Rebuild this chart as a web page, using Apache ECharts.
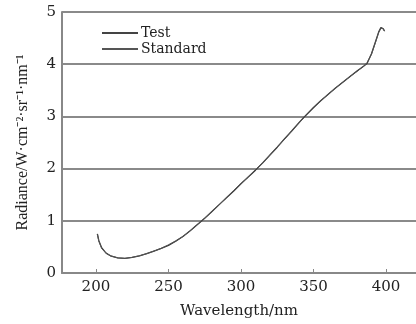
<!DOCTYPE html>
<html><head><meta charset="utf-8">
<script src="https://cdn.jsdelivr.net/npm/echarts@6/dist/echarts.min.js"></script>
<style>html,body{margin:0;padding:0;background:#fff}#c{width:416px;height:324px}</style>
</head><body><div id="c"></div>
<script>
const wavelengths = [201,202,204,207,210,215,220,225,230,235,240,245,250,255,260,265,270,275,280,285,290,295,300,305,310,315,320,325,330,335,340,345,350,355,360,365,370,375,380,385,387,390,393,395,396.5,398,399];
const testValues = [0.75,0.62,0.48,0.38,0.33,0.29,0.28,0.30,0.33,0.37,0.42,0.47,0.53,0.61,0.70,0.81,0.93,1.05,1.18,1.31,1.44,1.57,1.71,1.84,1.97,2.11,2.26,2.41,2.57,2.72,2.88,3.03,3.17,3.30,3.42,3.54,3.65,3.76,3.87,3.97,4.02,4.20,4.45,4.62,4.70,4.68,4.64];
const standardValues = [0.74,0.61,0.47,0.38,0.33,0.29,0.28,0.30,0.33,0.37,0.42,0.47,0.54,0.61,0.70,0.81,0.93,1.05,1.18,1.31,1.44,1.58,1.71,1.84,1.98,2.11,2.26,2.41,2.56,2.72,2.87,3.02,3.16,3.30,3.42,3.54,3.65,3.76,3.86,3.97,4.03,4.19,4.44,4.61,4.69,4.68,4.63];
const xTicks = [200,250,300,350,400];
const seriesNames = ['Test','Standard'];

const font = 'DejaVu Serif';
const chart = echarts.init(document.getElementById('c'));
const mk = (arr) => wavelengths.map((w,i)=>[w,arr[i]]);
chart.setOption({
  animation:false,
  backgroundColor:'#fff',
  grid:{left:62,right:0,top:12,bottom:44},
  legend:{
    orient:'vertical', left:97, top:21, itemGap:2,
    itemWidth:36, itemHeight:2, icon:'rect',
    textStyle:{fontFamily:font,fontSize:14,color:'#222',padding:[0,0,0,-2]},
    data:seriesNames
  },
  xAxis:{
    type:'value', min:176.6, max:420.7,
    name:'Wavelength/nm', nameLocation:'middle', nameGap:31,
    nameTextStyle:{fontFamily:font,fontSize:15,color:'#222'},
    axisLine:{lineStyle:{color:'#888',width:2}},
    axisTick:{inside:true,length:4,customValues:xTicks,lineStyle:{color:'#888',width:1}},
    axisLabel:{customValues:xTicks,fontFamily:font,fontSize:15,color:'#222',margin:7},
    splitLine:{show:false}
  },
  yAxis:{
    type:'value', min:0, max:5, interval:1,
    name:'Radiance/W·cm⁻²·sr⁻¹·nm⁻¹', nameLocation:'middle', nameGap:31, nameRotate:90,
    nameTextStyle:{fontFamily:'Liberation Serif',fontSize:16,color:'#222'},
    axisLine:{show:true,lineStyle:{color:'#888',width:2}},
    axisTick:{show:false},
    axisLabel:{fontFamily:font,fontSize:15,color:'#222',margin:6},
    splitLine:{show:true,lineStyle:{color:'#8a8a8a',width:2}}
  },
  series:[
    {name:seriesNames[0],type:'line',data:mk(testValues),showSymbol:false,smooth:false,
     lineStyle:{color:'#333',width:1.3},itemStyle:{color:'#444'}},
    {name:seriesNames[1],type:'line',data:mk(standardValues),showSymbol:false,smooth:false,
     lineStyle:{color:'#555',width:1},itemStyle:{color:'#555'}}
  ]
});
</script></body></html>
